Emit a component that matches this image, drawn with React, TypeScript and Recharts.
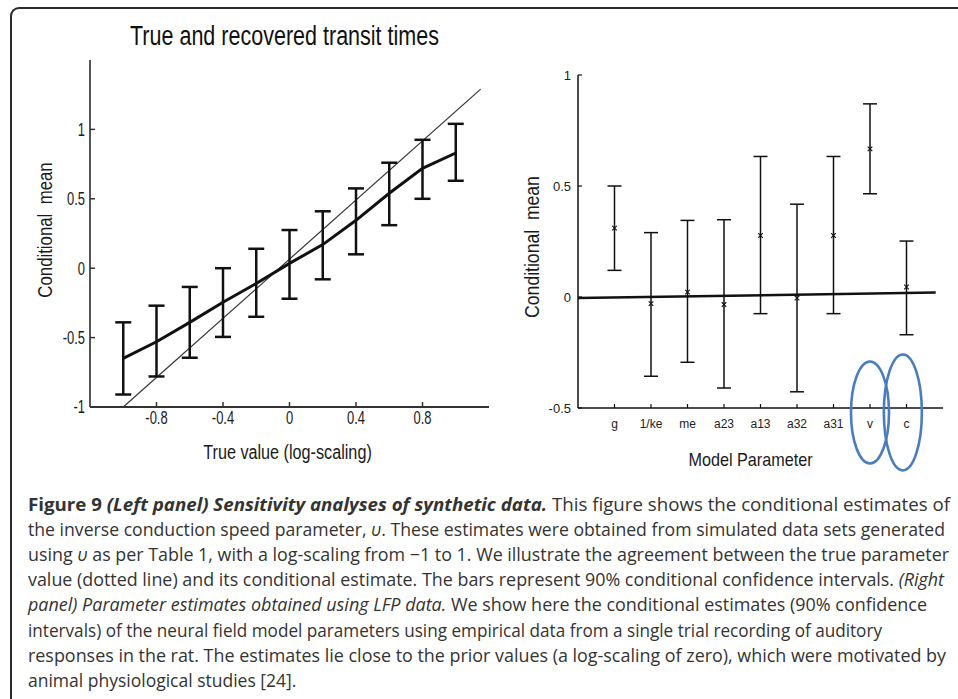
import React from 'react';
import {
  ComposedChart,
  Line,
  Scatter,
  XAxis,
  YAxis,
  ErrorBar,
  ReferenceLine,
  ReferenceDot,
} from 'recharts';

// Left panel: true vs recovered (log-scaling)
const TRUE_VALUES = [-1, -0.8, -0.6, -0.4, -0.2, 0, 0.2, 0.4, 0.6, 0.8, 1];
const RECOVERED_MEAN = [-0.65, -0.53, -0.39, -0.245, -0.11, 0.035, 0.17, 0.345, 0.54, 0.72, 0.83];
const RECOVERED_LOW = [-0.91, -0.78, -0.645, -0.495, -0.35, -0.22, -0.08, 0.1, 0.31, 0.5, 0.63];
const RECOVERED_HIGH = [-0.39, -0.27, -0.135, 0.0, 0.14, 0.275, 0.41, 0.575, 0.76, 0.925, 1.04];
const IDENTITY_LINE = [
  { x: -1, y: -1 },
  { x: 1.15, y: 1.29 },
];
const LEFT_X_TICKS = [-0.8, -0.4, 0, 0.4, 0.8];
const LEFT_Y_TICKS = [-1, -0.5, 0, 0.5, 1];

// Right panel: parameter estimates from LFP data
const PARAMS = ['g', '1/ke', 'me', 'a23', 'a13', 'a32', 'a31', 'v', 'c'];
const PARAM_MEAN = [0.31, -0.03, 0.022, -0.034, 0.277, -0.005, 0.277, 0.667, 0.045];
const PARAM_LOW = [0.12, -0.357, -0.294, -0.41, -0.075, -0.427, -0.075, 0.465, -0.17];
const PARAM_HIGH = [0.5, 0.29, 0.345, 0.348, 0.633, 0.418, 0.633, 0.87, 0.252];
const PRIOR_LINE = [
  { x: 0, y: -0.005 },
  { x: 9.8, y: 0.02 },
];
const PARAM_TICKS = [1, 2, 3, 4, 5, 6, 7, 8, 9];
const RIGHT_Y_TICKS = [-0.5, 0, 0.5, 1];
const CIRCLED = [
  { x: 8, y: -0.52 },
  { x: 8.9, y: -0.52 },
];

const CAPTION_LINES = [
  'the inverse conduction speed parameter, ',
  ' as per Table 1, with a log-scaling from \u22121 to 1. We illustrate the agreement between the true parameter',
  'value (dotted line) and its conditional estimate. The bars represent 90% conditional confidence intervals. ',
  ' We show here the conditional estimates (90% confidence',
  'intervals) of the neural field model parameters using empirical data from a single trial recording of auditory',
  'responses in the rat. The estimates lie close to the prior values (a log-scaling of zero), which were motivated by',
  'animal physiological studies [24].',
];

const leftData = TRUE_VALUES.map((x, i) => ({
  x,
  mean: RECOVERED_MEAN[i],
  err: [RECOVERED_MEAN[i] - RECOVERED_LOW[i], RECOVERED_HIGH[i] - RECOVERED_MEAN[i]],
}));

const rightData = PARAMS.map((p, i) => ({
  x: i + 1,
  name: p,
  mean: PARAM_MEAN[i],
  err: [PARAM_MEAN[i] - PARAM_LOW[i], PARAM_HIGH[i] - PARAM_MEAN[i]],
}));

const SANS = "'Liberation Sans', Arial, sans-serif";
const CAPTION_FONT = "'Open Sans', sans-serif";

// squeezed Arial-like text, the figure was scaled non-uniformly
function Squeezed({ x, y, sx, size, anchor, dy, rotate = 0, children }: any) {
  return (
    <g transform={`translate(${x},${y}) rotate(${rotate}) scale(${sx},1)`}>
      <text
        textAnchor={anchor}
        dy={dy}
        fontSize={size}
        fontFamily={SANS}
        fill="#1a1a1a"
        style={{ whiteSpace: 'pre' }}
      >
        {children}
      </text>
    </g>
  );
}

const LeftXTick = ({ x, y, payload }: any) => (
  <Squeezed x={x} y={y} sx={0.72} size={18} anchor="middle" dy="0.72em">
    {payload.value}
  </Squeezed>
);
const LeftYTick = ({ x, y, payload }: any) => (
  <Squeezed x={x} y={y} sx={0.72} size={18} anchor="end" dy="0.36em">
    {payload.value}
  </Squeezed>
);

const XMark = (props: any) => {
  const { cx, cy } = props;
  const s = 2.3;
  return (
    <path
      d={`M${cx - s},${cy - s}L${cx + s},${cy + s}M${cx - s},${cy + s}L${cx + s},${cy - s}`}
      stroke="#111"
      strokeWidth={1.1}
    />
  );
};

const Ellipse = (ry: number) => (props: any) => (
  <ellipse cx={props.cx} cy={props.cy} rx={19} ry={ry} fill="none" stroke="#4a7cc0" strokeWidth={2.6} />
);

function LeftPanel() {
  return (
    <ComposedChart
      width={500}
      height={470}
      data={leftData}
      margin={{ top: 60, right: 11, bottom: 33, left: 30 }}
    >
      <XAxis
        type="number"
        dataKey="x"
        domain={[-1.2, 1.2]}
        ticks={LEFT_X_TICKS}
        allowDataOverflow
        height={30}
        tickSize={-5}
        tickMargin={9}
        axisLine={{ stroke: '#333', strokeWidth: 2 }}
        tickLine={{ stroke: '#333', strokeWidth: 1.5 }}
        tick={LeftXTick}
        label={{
          content: ({ viewBox }: any) => (
            <Squeezed x={viewBox.x + viewBox.width / 2 - 2} y={viewBox.y + 52} sx={0.81} size={20} anchor="middle">
              True value (log-scaling)
            </Squeezed>
          ),
        }}
      />
      <YAxis
        type="number"
        domain={[-1, 1.5]}
        ticks={LEFT_Y_TICKS}
        allowDataOverflow
        width={60}
        tickSize={-5}
        tickMargin={10}
        axisLine={{ stroke: '#555', strokeWidth: 2 }}
        tickLine={{ stroke: '#333', strokeWidth: 1.5 }}
        tick={LeftYTick}
        label={{
          content: ({ viewBox }: any) => (
            <Squeezed x={viewBox.x + 15} y={230} rotate={-90} sx={0.84} size={20} anchor="middle" dy="0.36em">
              Conditional  mean
            </Squeezed>
          ),
        }}
      />
      <ReferenceLine
        segment={IDENTITY_LINE}
        stroke="#333"
        strokeWidth={1.2}
        ifOverflow="visible"
      />
      <Line
        dataKey="mean"
        stroke="#111"
        strokeWidth={3}
        dot={false}
        isAnimationActive={false}
      >
        <ErrorBar dataKey="err" width={8} stroke="#111" strokeWidth={2.5} />
      </Line>
    </ComposedChart>
  );
}

function RightPanel() {
  return (
    <ComposedChart
      width={458}
      height={480}
      data={rightData}
      margin={{ top: 75, right: 15, bottom: 32, left: 18 }}
    >
      <XAxis
        type="number"
        dataKey="x"
        domain={[0, 10]}
        ticks={PARAM_TICKS}
        tickFormatter={(v: number) => PARAMS[v - 1]}
        allowDataOverflow
        height={40}
        tickSize={-4}
        tickMargin={15}
        axisLine={{ stroke: '#111', strokeWidth: 1.5 }}
        tickLine={{ stroke: '#111', strokeWidth: 1.2 }}
        tick={{ fontSize: 12, fill: '#222', fontFamily: SANS }}
        label={{
          content: ({ viewBox }: any) => (
            <Squeezed x={viewBox.x + viewBox.width / 2 - 10} y={viewBox.y + 58} sx={0.9} size={18} anchor="middle">
              Model Parameter
            </Squeezed>
          ),
        }}
      />
      <YAxis
        type="number"
        domain={[-0.5, 1]}
        ticks={RIGHT_Y_TICKS}
        allowDataOverflow
        width={60}
        tickSize={-4}
        tickMargin={11}
        axisLine={{ stroke: '#111', strokeWidth: 1.5 }}
        tickLine={{ stroke: '#111', strokeWidth: 1.2 }}
        tick={{ fontSize: 13, fill: '#222', fontFamily: SANS }}
        label={{
          content: ({ viewBox }: any) => (
            <Squeezed x={viewBox.x + 14} y={247} rotate={-90} sx={0.88} size={20} anchor="middle" dy="0.36em">
              Conditional  mean
            </Squeezed>
          ),
        }}
      />
      <ReferenceLine segment={PRIOR_LINE} stroke="#111" strokeWidth={2.5} ifOverflow="visible" />
      <Scatter dataKey="mean" shape={XMark} isAnimationActive={false}>
        <ErrorBar dataKey="err" direction="y" width={7} stroke="#111" strokeWidth={1.5} />
      </Scatter>
      <ReferenceDot x={CIRCLED[0].x} y={CIRCLED[0].y} ifOverflow="visible" shape={Ellipse(51)} />
      <ReferenceDot x={CIRCLED[1].x} y={CIRCLED[1].y} ifOverflow="visible" shape={Ellipse(58)} />
    </ComposedChart>
  );
}

export default function App() {
  const base = 511;
  const step = 25.1;
  const lx = 28;
  return (
    <div style={{ position: 'absolute', left: 0, top: 0, width: 958, height: 699, background: '#fff', overflow: 'hidden' }}>
      <div
        style={{
          position: 'absolute',
          left: 10,
          top: 7,
          width: 960,
          height: 720,
          borderLeft: '2px solid #2a2a2a',
          borderTop: '2px solid #2a2a2a',
          borderTopLeftRadius: 9,
        }}
      />
      <div style={{ position: 'absolute', left: 0, top: 0 }}>
        <LeftPanel />
      </div>
      <div style={{ position: 'absolute', left: 500, top: 0 }}>
        <RightPanel />
      </div>
      <svg width={958} height={699} style={{ position: 'absolute', left: 0, top: 0, pointerEvents: 'none' }}>
        <text
          x={130}
          y={45}
          fontSize={27}
          fontFamily={SANS}
          fill="#111"
          textLength={309}
          lengthAdjust="spacingAndGlyphs"
        >
          True and recovered transit times
        </text>
        <g fontFamily={CAPTION_FONT} fontSize={17.5} fill="#333">
          <text x={lx} y={base} textLength={922} lengthAdjust="spacingAndGlyphs">
            <tspan fontWeight="bold">Figure 9 </tspan>
            <tspan fontWeight="bold" fontStyle="italic">(Left panel) Sensitivity analyses of synthetic data.</tspan>
            <tspan> This figure shows the conditional estimates of</tspan>
          </text>
          <text x={lx} y={base + step} textLength={917} lengthAdjust="spacingAndGlyphs">
            {CAPTION_LINES[0]}
            <tspan fontStyle="italic">{'\u03C5'}</tspan>
            . These estimates were obtained from simulated data sets generated
          </text>
          <text x={lx} y={base + step * 2} textLength={921} lengthAdjust="spacingAndGlyphs">
            using <tspan fontStyle="italic">{'\u03C5'}</tspan>
            {CAPTION_LINES[1]}
          </text>
          <text x={lx} y={base + step * 3} textLength={916} lengthAdjust="spacingAndGlyphs">
            {CAPTION_LINES[2]}
            <tspan fontStyle="italic">(Right</tspan>
          </text>
          <text x={lx} y={base + step * 4} textLength={899} lengthAdjust="spacingAndGlyphs">
            <tspan fontStyle="italic">panel) Parameter estimates obtained using LFP data.</tspan>
            {CAPTION_LINES[3]}
          </text>
          <text x={lx} y={base + step * 5} textLength={854} lengthAdjust="spacingAndGlyphs">
            {CAPTION_LINES[4]}
          </text>
          <text x={lx} y={base + step * 6} textLength={918} lengthAdjust="spacingAndGlyphs">
            {CAPTION_LINES[5]}
          </text>
          <text x={lx} y={base + step * 7}>
            {CAPTION_LINES[6]}
          </text>
        </g>
      </svg>
    </div>
  );
}
